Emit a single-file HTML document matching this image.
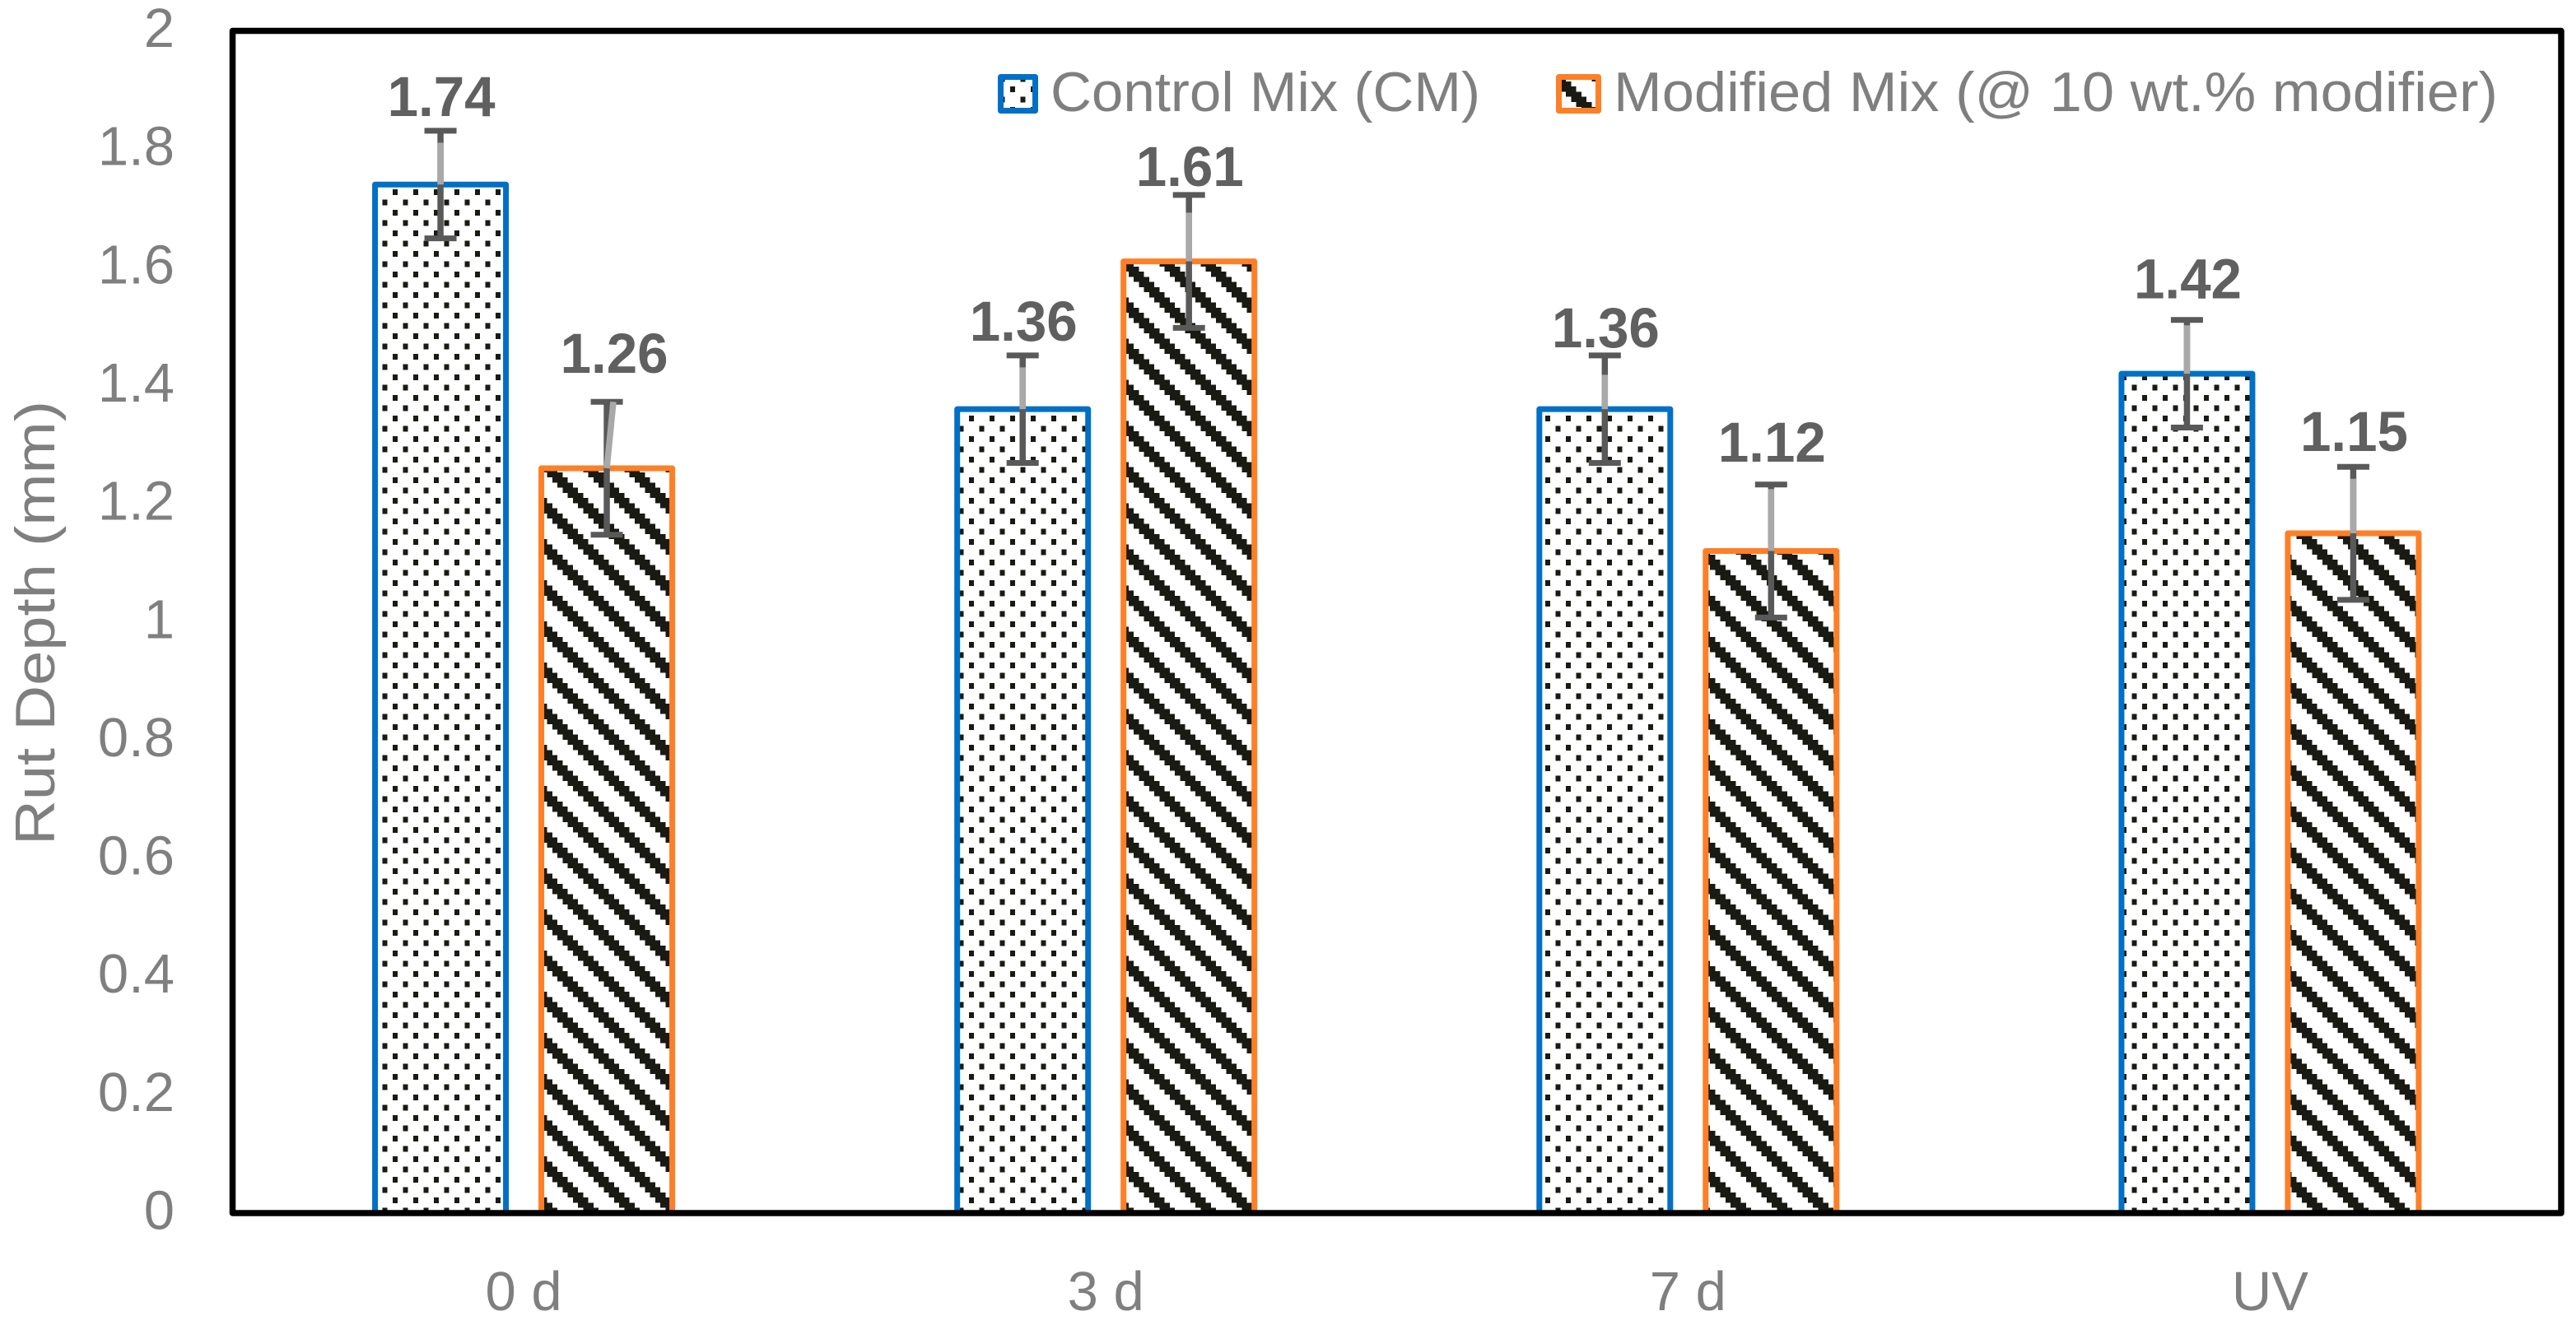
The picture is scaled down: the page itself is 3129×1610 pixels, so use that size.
<!DOCTYPE html>
<html lang="en">
<head>
<meta charset="utf-8">
<title>Rut Depth Chart</title>
<style>
html,body{margin:0;padding:0;background:#fff}
svg{display:block}
text{font-family:"Liberation Sans",Arial,sans-serif}
</style>
</head>
<body>
<svg id="chart" xmlns="http://www.w3.org/2000/svg" width="3129" height="1610" viewBox="0 0 3129 1610">
  <defs>
    <pattern id="dots" patternUnits="userSpaceOnUse" x="2" y="5" width="25" height="25">
      <rect x="0" y="0" width="6" height="7" fill="#1a1a14" shape-rendering="crispEdges"/>
      <rect x="12.5" y="12.5" width="6" height="7" fill="#1a1a14" shape-rendering="crispEdges"/>
    </pattern>
    <pattern id="stripes" patternUnits="userSpaceOnUse" x="2" y="5" width="50" height="50"></pattern>
  </defs>
  <rect x="0" y="0" width="3129" height="1610" fill="#ffffff"/>
  <g id="bars"></g>
  <g id="errors"></g>
  <rect x="282.5" y="37.5" width="2828.5" height="1436.5" fill="none" stroke="#000000" stroke-width="7.5" stroke-linejoin="round"/>
  <g id="ticks"></g>
  <g id="cats"></g>
  <g id="values"></g>
  <text transform="translate(66,757) rotate(-90)" text-anchor="middle" font-size="68" fill="#7f7f7f" textLength="540" lengthAdjust="spacingAndGlyphs">Rut Depth (mm)</text>
  <g>
    <g>
      <rect x="1215.5" y="93.5" width="42" height="41" fill="#ffffff"/>
      <rect x="1215.5" y="93.5" width="42" height="41" fill="url(#dots)" stroke="#0070c6" stroke-width="7" stroke-linejoin="round"/>
      <text x="1276" y="135" font-size="68" fill="#7f7f7f" textLength="522" lengthAdjust="spacingAndGlyphs">Control Mix (CM)</text>
    </g>
    <g>
      <rect x="1893.5" y="93.5" width="48" height="41" fill="#ffffff"/>
      <rect x="1893.5" y="93.5" width="48" height="41" fill="url(#stripes)" stroke="#ff7f27" stroke-width="7" stroke-linejoin="round"/>
      <text x="1960" y="135" font-size="68" fill="#7f7f7f" textLength="1074" lengthAdjust="spacingAndGlyphs">Modified Mix (@ 10 wt.% modifier)</text>
    </g>
  </g>
</svg>
<script>
const categories = ["0 d", "3 d", "7 d", "UV"];
const controlMix = [1.74, 1.36, 1.36, 1.42];
const modifiedMix = [1.26, 1.61, 1.12, 1.15];
const controlErr = [0.091, 0.091, 0.091, 0.091];
const modifiedErr = [0.1125, 0.1125, 0.1125, 0.1125];
const yTicks = [0, 0.2, 0.4, 0.6, 0.8, 1, 1.2, 1.4, 1.6, 1.8, 2];

const NS = "http://www.w3.org/2000/svg";
const plotLeft = 282.5, plotRight = 3111, plotTop = 37.5, plotBottom = 1474;
const yMax = 2;
const barWidth = 159, barOffset = 101, capHalf = 19.5;

/* hand-read label and stem placement from the reference, in layout pixels */
const labelLift = [[18, 18, 10, 26], [35, 11, 28, 19]];
const labelShift = [[1, 1, 1, 1], [9, 1, 1, 1]];
const darkTop = [[14.5, 14.5, 23.5, 6.5], [0, 21.5, 5.5, 14.5]];
const stemLean = [[0, 0, 0, 0], [8, 0, 0, 0]];

function yScale(v) { return plotBottom - (v / yMax) * (plotBottom - plotTop); }
function xBand(i) { return plotLeft + (i + 0.5) * (plotRight - plotLeft) / categories.length; }
function make(tag, attrs, parent) {
  const el = document.createElementNS(NS, tag);
  for (const k in attrs) el.setAttribute(k, attrs[k]);
  parent.appendChild(el);
  return el;
}

const stripeTile = document.getElementById("stripes");
for (let r = 0; r < 8; r++) {
  for (const c of [(r + 7) % 8, r % 8, (r + 1) % 8]) {
    make("rect", {x: c * 6.25, y: r * 6.25, width: 6.25, height: 6.25, fill: "#1a1a14", "shape-rendering": "crispEdges"}, stripeTile);
  }
}

const barsLayer = document.getElementById("bars");
const errorsLayer = document.getElementById("errors");
const valuesLayer = document.getElementById("values");
const ticksLayer = document.getElementById("ticks");
const catsLayer = document.getElementById("cats");

yTicks.forEach(function (t) {
  const el = make("text", {x: 212, y: yScale(t) + 19.5, "text-anchor": "end", "font-size": 67, fill: "#7f7f7f"}, ticksLayer);
  
  
  el.textContent = String(t);
});

categories.forEach(function (c, i) {
  const el = make("text", {x: xBand(i), y: 1592, "text-anchor": "middle", "font-size": 67, fill: "#7f7f7f"}, catsLayer);
  
  
  el.textContent = c;
});

function drawSeries(values, errs, s, fillId, stroke) {
  values.forEach(function (v, i) {
    const cx = xBand(i) + (s === 0 ? -barOffset : barOffset);
    const top = yScale(v);
    const hi = yScale(v + errs[i]);
    const lo = yScale(v - errs[i]);

    const base = make("rect", {x: cx - barWidth / 2, y: top, width: barWidth, height: plotBottom - top, fill: "#ffffff"}, barsLayer);
    
    

    const bar = make("rect", {x: cx - barWidth / 2, y: top, width: barWidth, height: plotBottom - top, fill: "url(#" + fillId + ")", stroke: stroke, "stroke-width": 7, "stroke-linejoin": "round"}, barsLayer);
    
    

    const stem = make("line", {x1: cx, x2: cx, y1: hi, y2: lo, stroke: "#595959", "stroke-width": 7.5}, errorsLayer);
    
    

    const capHi = make("line", {x1: cx - capHalf, x2: cx + capHalf, y1: hi, y2: hi, stroke: "#595959", "stroke-width": 7}, errorsLayer);
    
    

    const capLo = make("line", {x1: cx - capHalf, x2: cx + capHalf, y1: lo, y2: lo, stroke: "#595959", "stroke-width": 7}, errorsLayer);
    
    

    const light = make("line", {x1: cx + stemLean[s][i], x2: cx, y1: hi + darkTop[s][i], y2: top, stroke: "#a9a9a9", "stroke-width": 7.5}, errorsLayer);
    
    

    const label = make("text", {x: cx + labelShift[s][i], y: hi - labelLift[s][i], "text-anchor": "middle", "font-size": 69, "font-weight": "bold", fill: "#606060", textLength: 131, lengthAdjust: "spacingAndGlyphs"}, valuesLayer);
    
    
    label.textContent = v.toFixed(2);
  });
}

drawSeries(controlMix, controlErr, 0, "dots", "#0070c6");
drawSeries(modifiedMix, modifiedErr, 1, "stripes", "#ff7f27");
</script>
</body>
</html>
